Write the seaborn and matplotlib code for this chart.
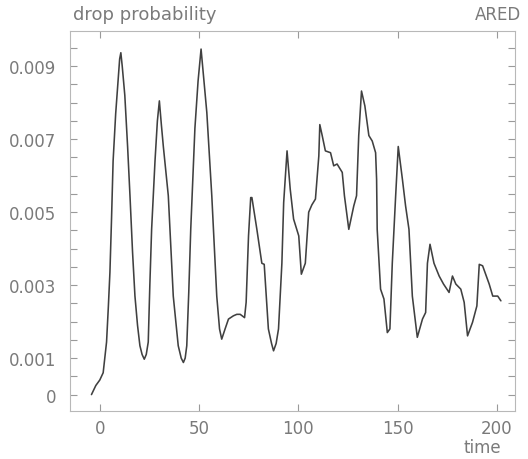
import matplotlib
matplotlib.use("Agg")
import matplotlib.pyplot as plt
from matplotlib.ticker import MultipleLocator, FixedLocator
import seaborn as sns
import pandas as pd

# ARED drop probability trace
time = [-4.2, -2.0, 0.0, 1.7, 3.4, 4.3, 5.1, 5.9, 6.7, 8.0, 9.2, 10.0, 10.6, 11.3, 12.6,
        14.0, 15.2, 16.5, 17.7, 19.0, 20.2, 21.3, 22.4, 23.4, 24.4, 25.2, 26.1, 27.8, 29.0,
        30.0, 31.0, 32.0, 34.5, 37.0, 39.5, 41.0, 42.1, 43.0, 43.8, 44.8, 45.8, 47.9, 49.5,
        51.0, 52.3, 53.9, 56.4, 58.9, 60.3, 61.4, 63.1, 64.8, 67.3, 69.0, 70.7, 72.9,
        73.7, 74.9, 76.0, 76.6, 79.1, 81.6, 82.8, 84.9, 86.5, 87.5, 88.8, 90.0, 91.7,
        92.6, 94.3, 95.9, 97.6, 100.2, 101.5, 103.5, 105.2, 106.8, 108.6, 110.3, 110.8,
        112.0, 113.6, 116.2, 117.8, 119.5, 122.1, 123.2, 125.4, 127.9, 129.3, 130.4,
        131.8, 133.5, 135.5, 137.2, 138.9, 139.4, 139.7, 141.4, 143.1, 144.8, 146.1,
        147.3, 149.0, 150.3, 152.4, 154.0, 155.7, 157.4, 159.9, 162.5, 164.1, 165.0,
        166.3, 168.3, 170.9, 173.1, 175.9, 177.6, 179.3, 181.8, 183.5, 185.2, 187.7,
        189.9, 191.1, 192.8, 196.1, 197.9, 200.4, 202.0]
drop_prob = [0.0000, 0.00025, 0.0004, 0.0006, 0.00144, 0.0024, 0.00335, 0.0048, 0.0064,
             0.0077, 0.0086, 0.0092, 0.00937, 0.0090, 0.0082, 0.0068, 0.00545, 0.0039,
             0.0027, 0.0019, 0.00134, 0.0011, 0.00097, 0.0011, 0.00144, 0.0030, 0.00453,
             0.0064, 0.0075, 0.00805, 0.0074, 0.0068, 0.00545, 0.0027, 0.00134, 0.0010,
             0.00088, 0.0010, 0.00134, 0.0028, 0.00453, 0.0073, 0.0086, 0.00947, 0.0087,
             0.00773, 0.00545, 0.0027, 0.0018, 0.00152, 0.0018, 0.00207, 0.00216, 0.0022,
             0.0022, 0.00211, 0.00253, 0.00435, 0.0054, 0.0054, 0.00453, 0.0036, 0.00357,
             0.0018, 0.0014, 0.0012, 0.0014, 0.0018, 0.0036, 0.00526, 0.00668, 0.00563,
             0.00481, 0.00435, 0.0033, 0.0036, 0.0050, 0.0052, 0.00536, 0.00654, 0.0074,
             0.0071, 0.00668, 0.00663, 0.00627, 0.00632, 0.00609, 0.00545, 0.00453,
             0.00517, 0.00545, 0.0071, 0.00832, 0.00791, 0.0071, 0.00695, 0.00663, 0.0059,
             0.00453, 0.00289, 0.00262, 0.0017, 0.0018, 0.0036, 0.00545, 0.0068, 0.0059,
             0.00517, 0.00453, 0.0027, 0.00157, 0.00207, 0.00225, 0.0036, 0.00412, 0.0036,
             0.00325, 0.00303, 0.0028, 0.00325, 0.00303, 0.00289, 0.00253, 0.00161,
             0.00198, 0.00243, 0.00357, 0.00353, 0.00303, 0.0027, 0.0027, 0.00257]

x_ticks = [0, 50, 100, 150, 200]
y_ticks = [0, 0.001, 0.003, 0.005, 0.007, 0.009]
y_labels = ["0", "0.001", "0.003", "0.005", "0.007", "0.009"]

df = pd.DataFrame({"time": time, "drop_prob": drop_prob})

sns.set_style("ticks")
plt.rcParams["font.family"] = ["DejaVu Sans"]

fig = plt.figure(figsize=(5.28, 4.6), dpi=100)
ax = fig.add_axes([0.1326, 0.1043, 0.8424, 0.8257])

sns.lineplot(data=df, x="time", y="drop_prob", ax=ax, color="#404040",
             linewidth=1.15, estimator=None, sort=False)

ax.set_xlim(-15, 209)
ax.set_ylim(-0.00045, 0.00996)
ax.xaxis.set_major_locator(FixedLocator(x_ticks))
ax.yaxis.set_major_locator(FixedLocator(y_ticks))
ax.set_yticklabels(y_labels)
ax.yaxis.set_minor_locator(MultipleLocator(0.0005))

gray = "#7a7a7a"
for side in ["left", "right", "top", "bottom"]:
    ax.spines[side].set_visible(True)
    ax.spines[side].set_color("#b8b8b8")
    ax.spines[side].set_linewidth(0.8)
ax.tick_params(which="both", direction="in", top=True, right=True,
               color="#9a9a9a", width=0.8, labelcolor=gray, labelsize=12)
ax.tick_params(which="both", length=5)
ax.tick_params(axis="y", which="major", pad=10)
ax.tick_params(axis="x", which="major", pad=6)
ax.set_xlabel("")
ax.set_ylabel("")

fig.text(73 / 528, 1 - 15 / 460, "drop probability", ha="left", va="center",
         color=gray, fontsize=13)
fig.text(521 / 528, 1 - 15 / 460, "ARED", ha="right", va="center",
         color=gray, fontsize=12)
fig.text(482 / 528, 1 - 448 / 460, "time", ha="center", va="center",
         color=gray, fontsize=12)

fig.savefig("out.png", dpi=100, facecolor="white")
